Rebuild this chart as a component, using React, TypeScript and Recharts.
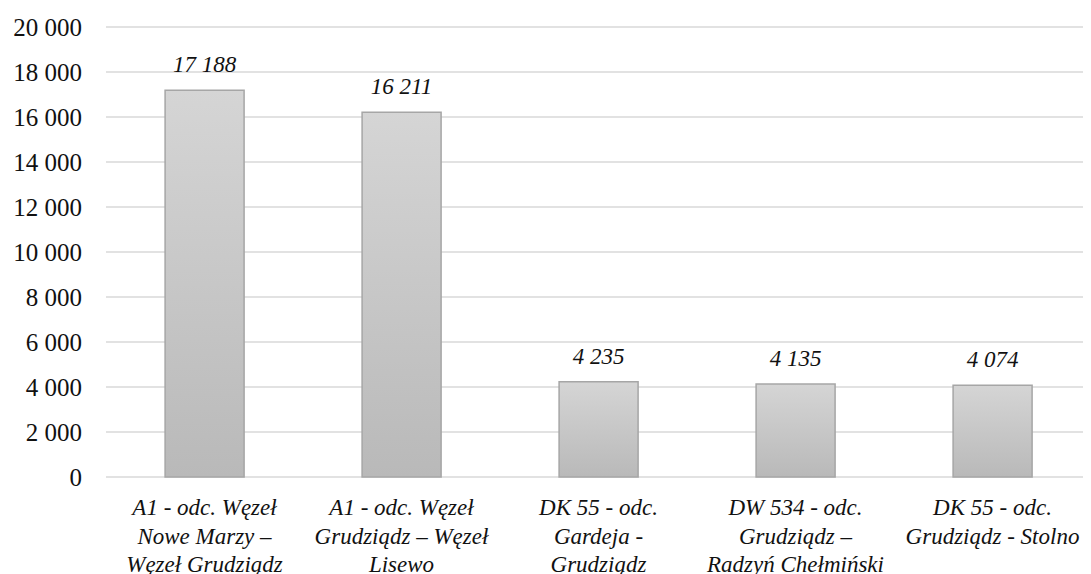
import React from 'react';
import { BarChart, Bar, XAxis, YAxis, CartesianGrid, LabelList } from 'recharts';

// Road sections (line breaks mark where each axis label wraps)
const categories = [
  'A1 - odc. Węzeł\nNowe Marzy –\nWęzeł Grudziądz',
  'A1 - odc. Węzeł\nGrudziądz – Węzeł\nLisewo',
  'DK 55 - odc.\nGardeja -\nGrudziądz',
  'DW 534 - odc.\nGrudziądz –\nRadzyń Chełmiński',
  'DK 55 - odc.\nGrudziądz - Stolno',
];

// Average daily traffic per section
const traffic = [17188, 16211, 4235, 4135, 4074];

const yTicks = [0, 2000, 4000, 6000, 8000, 10000, 12000, 14000, 16000, 18000, 20000];

const data = categories.map((name, i) => ({ name, value: traffic[i] }));

const FONT = '"Liberation Serif", "Times New Roman", serif';

const formatNumber = (v: number) =>
  String(Math.round(v)).replace(/\B(?=(\d{3})+(?!\d))/g, ' ');

const CategoryTick = (props: any) => {
  const { x, y, payload } = props;
  const lines = String(payload.value).split('\n');
  return (
    <text
      x={x}
      y={y}
      textAnchor="middle"
      fontFamily={FONT}
      fontStyle="italic"
      fontSize={23}
      fill="#111"
    >
      {lines.map((line, i) => (
        <tspan key={i} x={x} dy={i === 0 ? 38 : 28.5}>
          {line}
        </tspan>
      ))}
    </text>
  );
};

const ValueTick = (props: any) => {
  const { x, y, payload } = props;
  return (
    <text
      x={x - 24}
      y={y}
      textAnchor="end"
      dominantBaseline="central"
      fontFamily={FONT}
      fontSize={25}
      fill="#111"
    >
      {formatNumber(payload.value)}
    </text>
  );
};

export default function App() {
  return (
    <BarChart
      width={1083}
      height={566}
      data={data}
      margin={{ top: 19, right: 0, bottom: 0, left: 0 }}
      barCategoryGap="30%"
    >
      <defs>
        <linearGradient id="barGrad" x1="0" y1="0" x2="0" y2="1">
          <stop offset="0%" stopColor="#d5d5d5" />
          <stop offset="100%" stopColor="#b9b9b9" />
        </linearGradient>
      </defs>
      <CartesianGrid vertical={false} stroke="#d9d9d9" strokeWidth={1.5} />
      <XAxis
        dataKey="name"
        interval={0}
        height={97}
        axisLine={false}
        tickLine={false}
        tickSize={0}
        tickMargin={0}
        tick={<CategoryTick />}
      />
      <YAxis
        width={98}
        domain={[0, 20000]}
        ticks={yTicks}
        axisLine={false}
        tickLine={false}
        tickSize={0}
        tickMargin={0}
        tick={<ValueTick />}
      />
      <Bar
        dataKey="value"
        fill="url(#barGrad)"
        stroke="#a6a6a6"
        strokeWidth={1.5}
        isAnimationActive={false}
      >
        <LabelList
          dataKey="value"
          position="top"
          offset={18}
          formatter={(v: any) => formatNumber(Number(v))}
          style={{ fontFamily: FONT, fontStyle: 'italic', fontSize: 23, fill: '#111' }}
        />
      </Bar>
    </BarChart>
  );
}
